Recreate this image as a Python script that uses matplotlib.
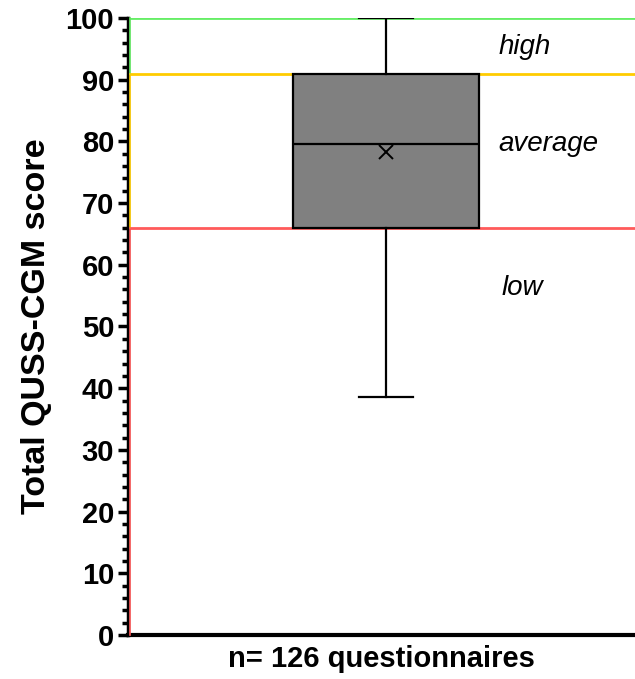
import numpy as np
import matplotlib.pyplot as plt
from matplotlib.ticker import MultipleLocator

plt.rcParams['font.family'] = ['Liberation Sans', 'DejaVu Sans']

# box statistics
whisker_low = 38.5
q1 = 66
median = 79.5
q3 = 91
whisker_high = 100
mean = 78.3

# category thresholds
thresholds = [100, 91, 66]
threshold_colors = ['#66ee66', '#ffcc00', '#ff5a5a']
band_labels = ['high', 'average', 'low']
band_label_y = [95.3, 79.6, 56.3]

fig = plt.figure(figsize=(6.35, 6.79), dpi=100)
ax = fig.add_axes([0.2016, 0.0648, 0.7984, 0.9087])

for y, c in zip(thresholds, threshold_colors):
    ax.axhline(y, color=c, linewidth=2, zorder=1)

# thin coloured strip along the left axis
lows = [91, 66, 0]
for top, low, c in zip(thresholds, lows, threshold_colors):
    ax.plot([0.494, 0.494], [low, top], color=c, linewidth=1.2, zorder=3, clip_on=False)

stats = [{'whislo': whisker_low, 'q1': q1, 'med': median, 'q3': q3,
          'whishi': whisker_high, 'mean': mean, 'fliers': []}]
ax.bxp(stats, positions=[1], widths=0.367, capwidths=0.108, showmeans=True,
       patch_artist=True,
       boxprops=dict(facecolor='#808080', edgecolor='black', linewidth=1.6),
       medianprops=dict(color='black', linewidth=1.6),
       whiskerprops=dict(color='black', linewidth=1.6),
       capprops=dict(color='black', linewidth=1.6),
       meanprops=dict(marker='x', markeredgecolor='black', markersize=10,
                      markeredgewidth=1.4),
       zorder=2)

label_x = [1.222, 1.222, 1.228]
for lab, x, y in zip(band_labels, label_x, band_label_y):
    ax.text(x, y, lab, style='italic', fontsize=20, ha='left', va='center')

ax.set_xlim(0.491, 1.491)
ax.set_ylim(0, 100)
ax.yaxis.set_major_locator(MultipleLocator(10))
ax.yaxis.set_minor_locator(MultipleLocator(2))
ax.tick_params(axis='y', which='major', length=7, width=2.5, labelsize=21, pad=3)
ax.tick_params(axis='y', which='minor', length=4, width=2.5)
ax.set_xticks([])
for lbl in ax.get_yticklabels():
    lbl.set_fontweight('bold')

for side in ['top', 'right']:
    ax.spines[side].set_visible(False)
ax.spines['left'].set_linewidth(2.5)
ax.spines['bottom'].set_linewidth(3)

ax.set_ylabel('Total QUSS-CGM score', fontsize=24.5, fontweight='bold', labelpad=10)
ax.set_xlabel('n= 126 questionnaires', fontsize=21, fontweight='bold', labelpad=7)

fig.savefig('out.png', dpi=100)
